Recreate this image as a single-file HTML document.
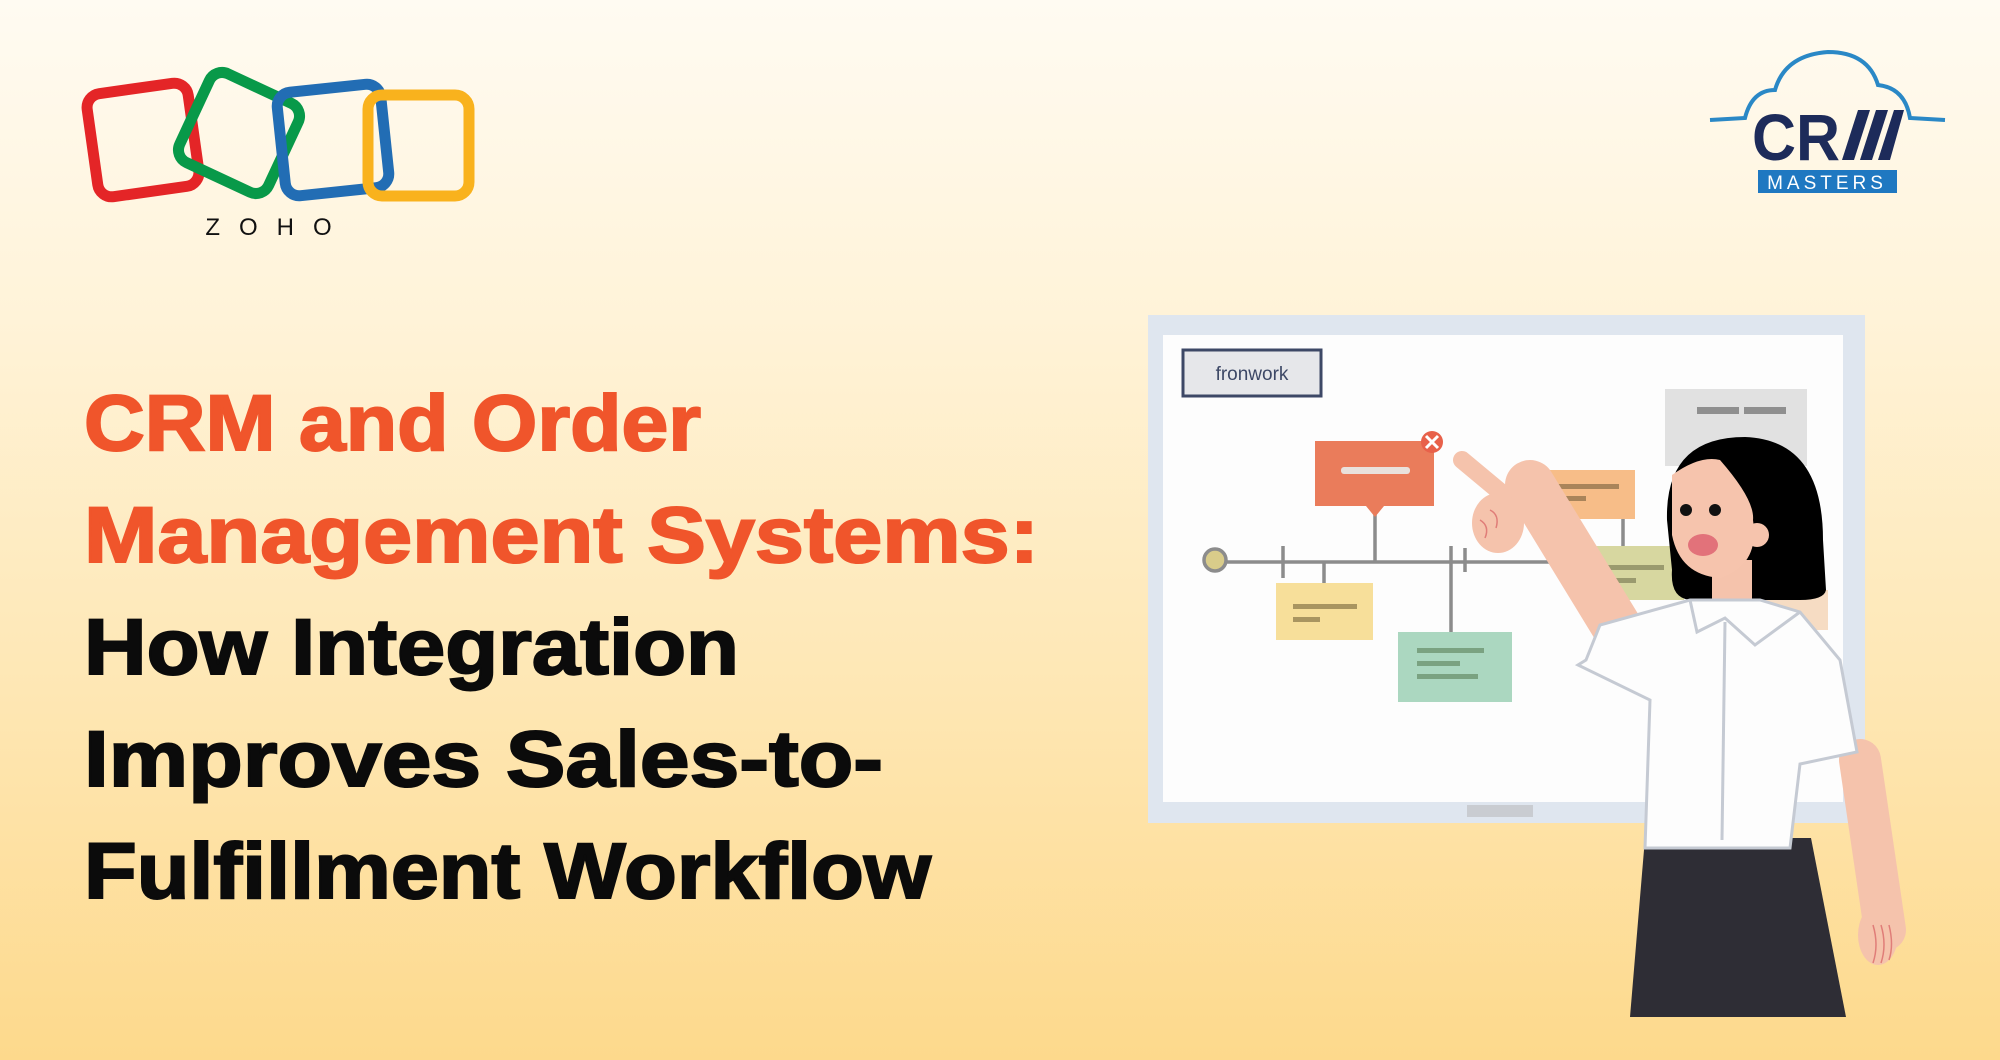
<!DOCTYPE html>
<html><head><meta charset="utf-8"><style>
html,body{margin:0;padding:0}
body{width:2000px;height:1060px;overflow:hidden;background:linear-gradient(180deg,#fffbf2 0%,#fff3d8 30%,#fee7b4 65%,#fdd98c 100%);position:relative;font-family:"Liberation Sans",sans-serif}
svg{position:absolute;left:0;top:0}
</style></head><body>
<svg width="2000" height="1060" viewBox="0 0 2000 1060" xmlns="http://www.w3.org/2000/svg">
<g fill="none" stroke-width="11" stroke-linejoin="round">
<rect x="92" y="88" width="102" height="104" rx="14" transform="rotate(-8 143 140)" stroke="#e42527"/>
<rect x="190" y="84" width="98" height="98" rx="14" transform="rotate(25 239 133)" stroke="#089949"/>
<rect x="281" y="88" width="104" height="104" rx="14" transform="rotate(-6 333 140)" stroke="#226db4"/>
<rect x="368" y="95" width="101" height="101" rx="14" stroke="#f9b21d"/>
</g>
<text x="278" y="235" text-anchor="middle" font-family="Liberation Sans" font-size="24" letter-spacing="19" fill="#111">ZOHO</text>
<path d="M1710 120 L1745 118 Q1752 90 1775 90 Q1785 55 1828 52 Q1868 52 1878 85 Q1905 88 1910 118 L1945 120" fill="none" stroke="#2a88c6" stroke-width="4"/>
<text x="1752" y="160" font-family="Liberation Sans" font-weight="bold" font-size="66" fill="#1d2b5a" textLength="88" lengthAdjust="spacingAndGlyphs">CR</text>
<g fill="#1d2b5a"><polygon points="1842,160 1858,110 1870,110 1854,160"/><polygon points="1860,160 1876,110 1888,110 1872,160"/><polygon points="1878,160 1894,110 1904,110 1890,160"/></g>
<rect x="1758" y="170" width="139" height="23" fill="#1f78c1"/>
<text x="1827" y="189" text-anchor="middle" font-family="Liberation Sans" font-size="19" letter-spacing="4" fill="#fff">MASTERS</text>
<g font-family="Liberation Sans" font-weight="bold" font-size="79" stroke-width="2">
<text x="84" y="450" fill="#f0552b" stroke="#f0552b" textLength="617" lengthAdjust="spacingAndGlyphs">CRM and Order</text>
<text x="84" y="562" fill="#f0552b" stroke="#f0552b" textLength="955" lengthAdjust="spacingAndGlyphs">Management Systems:</text>
<text x="84" y="674" fill="#0b0b0b" stroke="#0b0b0b" textLength="655" lengthAdjust="spacingAndGlyphs">How Integration</text>
<text x="84" y="786" fill="#0b0b0b" stroke="#0b0b0b" textLength="799" lengthAdjust="spacingAndGlyphs">Improves Sales-to-</text>
<text x="84" y="898" fill="#0b0b0b" stroke="#0b0b0b" textLength="847" lengthAdjust="spacingAndGlyphs">Fulfillment Workflow</text>
</g>
<rect x="1148" y="315" width="717" height="508" fill="#dfe6ef"/>
<rect x="1163" y="335" width="680" height="467" fill="#fdfdfd"/>
<rect x="1467" y="805" width="66" height="12" fill="#c9ccd1"/>
<rect x="1183" y="350" width="138" height="46" fill="#e6e7ea" stroke="#3d4866" stroke-width="3"/>
<text x="1252" y="380" text-anchor="middle" font-family="Liberation Sans" font-size="19" fill="#3d4866">fronwork</text>
<rect x="1665" y="389" width="142" height="77" fill="#e1e1e1"/>
<rect x="1697" y="407" width="42" height="7" fill="#8f8f8f"/><rect x="1744" y="407" width="42" height="7" fill="#8f8f8f"/>
<g stroke="#8c8c8c" stroke-width="3.5">
<line x1="1225" y1="562" x2="1600" y2="562"/>
<line x1="1283" y1="546" x2="1283" y2="578"/>
<line x1="1451" y1="546" x2="1451" y2="632"/>
<line x1="1465" y1="548" x2="1465" y2="572"/>
<line x1="1375" y1="512" x2="1375" y2="562"/>
<line x1="1324" y1="562" x2="1324" y2="583"/>
<line x1="1623" y1="519" x2="1623" y2="546"/>
</g>
<circle cx="1215" cy="560" r="11" fill="#d9cc8a" stroke="#8c8c8c" stroke-width="3.5"/>
<rect x="1315" y="441" width="119" height="65" fill="#ea7c5b"/>
<polygon points="1366,506 1384,506 1375,517" fill="#ea7c5b"/>
<rect x="1341" y="467" width="69" height="7" rx="3" fill="#e9e1dc"/>
<circle cx="1432" cy="442" r="11" fill="#e8614a"/>
<path d="M1426 436 L1438 448 M1438 436 L1426 448" stroke="#fff" stroke-width="3"/>
<rect x="1276" y="583" width="97" height="57" fill="#f7df9a"/>
<rect x="1293" y="604" width="64" height="5" fill="#a99560"/><rect x="1293" y="617" width="27" height="5" fill="#a99560"/>
<rect x="1398" y="632" width="114" height="70" fill="#abd7c0"/>
<rect x="1417" y="648" width="67" height="5" fill="#7aa281"/><rect x="1417" y="661" width="43" height="5" fill="#7aa281"/><rect x="1417" y="674" width="61" height="5" fill="#7aa281"/>
<rect x="1540" y="470" width="95" height="49" fill="#f7bd88"/>
<rect x="1558" y="484" width="61" height="5" fill="#a9845a"/><rect x="1558" y="496" width="28" height="5" fill="#a9845a"/>
<rect x="1583" y="546" width="101" height="54" fill="#d7d7a0"/>
<rect x="1598" y="565" width="66" height="5" fill="#9a9a6e"/><rect x="1598" y="578" width="38" height="5" fill="#9a9a6e"/>
<rect x="1760" y="590" width="68" height="40" fill="#f6dcc3"/>
<path d="M1860 760 L1885 930" stroke="#f5c3ac" stroke-width="42" stroke-linecap="round"/>
<ellipse cx="1878" cy="935" rx="20" ry="30" fill="#f5c3ac"/>
<path d="M1873 925 q6 20 0 38 M1881 925 q6 20 0 38 M1889 925 q5 20 0 35" fill="none" stroke="#e07d78" stroke-width="1.5"/>
<polygon points="1645,838 1811,838 1846,1017 1630,1017" fill="#2e2d35"/>
<path d="M1667 520 Q1665 437 1745 437 Q1823 440 1823 540 L1826 590 Q1824 600 1800 600 L1690 600 Q1670 598 1672 570 Z" fill="#000"/>
<rect x="1712" y="560" width="40" height="50" fill="#f5c3ac"/>
<path d="M1672 475 Q1700 455 1720 460 Q1755 500 1753 520 Q1760 565 1720 578 Q1680 575 1672 535 Z" fill="#f6c4ad"/>
<circle cx="1757" cy="535" r="12" fill="#f6c4ad"/>
<circle cx="1686" cy="510" r="6" fill="#111"/><circle cx="1715" cy="510" r="6" fill="#111"/>
<ellipse cx="1703" cy="545" rx="15" ry="11" fill="#e2727a"/>
<path d="M1640 665 L1530 485" stroke="#f5c3ac" stroke-width="50" stroke-linecap="round"/>
<path d="M1510 500 L1462 460" stroke="#f5c3ac" stroke-width="18" stroke-linecap="round"/>
<ellipse cx="1498" cy="523" rx="26" ry="30" fill="#f5c3ac"/>
<path d="M1490 510 q10 5 6 18 M1480 520 q10 6 5 18" fill="none" stroke="#e07d78" stroke-width="1.5"/>
<polygon points="1586,660 1600,625 1690,600 1760,600 1800,612 1840,660 1857,752 1800,764 1790,848 1645,848 1650,700 1578,665" fill="#fdfdfd" stroke="#c5cad3" stroke-width="3"/>
<path d="M1690 600 L1697 632 L1725 618 L1755 645 L1800 612" fill="none" stroke="#c5cad3" stroke-width="3"/>
<line x1="1725" y1="622" x2="1722" y2="840" stroke="#c5cad3" stroke-width="3"/>
</svg>
</body></html>
